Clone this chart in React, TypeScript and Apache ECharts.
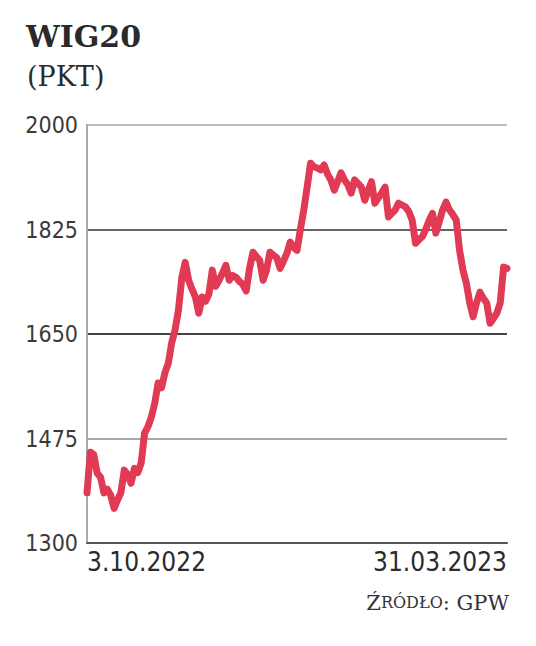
import React, { useEffect, useRef } from "react";
import * as echarts from "echarts";

const titleText = "WIG20";
const unitText = "(PKT)";
const dateLabels = ["3.10.2022", "31.03.2023"];
const yTicks = [1300, 1475, 1650, 1825, 2000];

// WIG20 daily closing values, 3.10.2022 - 31.03.2023
const wig20 = [
  1384, 1452, 1448, 1417, 1410, 1384, 1390, 1380, 1358, 1372,
  1384, 1422, 1415, 1400, 1425, 1418, 1434, 1484, 1495, 1511,
  1534, 1568, 1560, 1585, 1601, 1635, 1657, 1690, 1745, 1770,
  1740, 1725, 1712, 1685, 1712, 1705, 1717, 1757, 1730, 1740,
  1752, 1765, 1740, 1748, 1745, 1738, 1733, 1722, 1760, 1787,
  1780, 1773, 1740, 1757, 1787, 1782, 1778, 1760, 1772, 1785,
  1804, 1795, 1790, 1825, 1858, 1896, 1936, 1930, 1928, 1925,
  1933, 1918, 1908, 1891, 1905, 1920, 1908, 1900, 1886, 1908,
  1902, 1896, 1874, 1890, 1905, 1869, 1878, 1886, 1896, 1846,
  1852, 1858, 1869, 1866, 1863, 1855, 1841, 1802, 1808, 1813,
  1825, 1840, 1852, 1819, 1838, 1858, 1871, 1858, 1850, 1841,
  1790, 1757, 1735, 1702, 1679, 1702, 1720, 1710, 1702, 1668,
  1676, 1685, 1702, 1762, 1760,
];

const tradingDays = wig20.map((_, i) => String(i));

const condensed = "'DejaVu Sans Condensed', 'Liberation Sans Narrow', 'DejaVu Sans', sans-serif";
const serif = "'DejaVu Serif', 'Liberation Serif', serif";

export default function App() {
  const ref = useRef<HTMLDivElement>(null);

  useEffect(() => {
    if (!ref.current) return;
    const chart = echarts.init(ref.current, null, { renderer: "svg" });
    const last = wig20.length - 1;
    chart.setOption({
      animation: false,
      backgroundColor: "#ffffff",
      grid: { left: 87, right: 29, top: 125, bottom: 103, containLabel: false },
      xAxis: {
        type: "category",
        data: tradingDays,
        boundaryGap: false,
        axisLine: { show: true, lineStyle: { color: "#555555", width: 2 } },
        axisTick: { show: false },
        splitLine: { show: false },
        axisLabel: {
          interval: (index: number) => index === 0 || index === last,
          formatter: (_v: string, idx: number) => (idx === 0 ? dateLabels[0] : dateLabels[1]),
          alignMinLabel: "left",
          alignMaxLabel: "right",
          fontSize: 26,
          color: "#2b2b2b",
          fontFamily: condensed,
          margin: 6,
        },
      },
      yAxis: {
        type: "value",
        min: yTicks[0],
        max: yTicks[yTicks.length - 1],
        interval: yTicks[1] - yTicks[0],
        axisLine: { show: true, lineStyle: { color: "#aaaaaa", width: 2 } },
        axisTick: { show: false },
        axisLabel: {
          formatter: (v: number) => String(v),
          fontSize: 23,
          color: "#3a3a3a",
          fontFamily: condensed,
          margin: 9,
        },
        splitLine: {
          show: true,
          lineStyle: { color: ["#555555", "#a8a8a8", "#444444", "#666666", "#bdbdbd"], width: 2 },
        },
      },
      series: [
        {
          type: "line",
          data: wig20,
          showSymbol: false,
          symbol: "none",
          lineStyle: { color: "#e03a55", width: 7, cap: "round", join: "round" },
          z: 5,
        },
      ],
      graphic: [
        {
          type: "text",
          left: 26,
          top: 21,
          style: { text: titleText, font: `bold 30px ${serif}`, fill: "#2a2a2a" },
        },
        {
          type: "text",
          left: 27,
          top: 63,
          style: { text: unitText, font: `27px ${serif}`, fill: "#2a2a2a" },
        },
        {
          type: "text",
          right: 27,
          top: 592,
          style: {
            text: "{a|Ź}{b|RÓDŁO}{a|: GPW}",
            rich: {
              a: { fontSize: 21, fontFamily: serif, fill: "#333333", color: "#333333" },
              b: { fontSize: 16, fontFamily: serif, fill: "#333333", color: "#333333" },
            },
          },
        },
      ],
    });
    return () => chart.dispose();
  }, []);

  return <div ref={ref} style={{ width: 536, height: 646, margin: -8 }} />;
}
